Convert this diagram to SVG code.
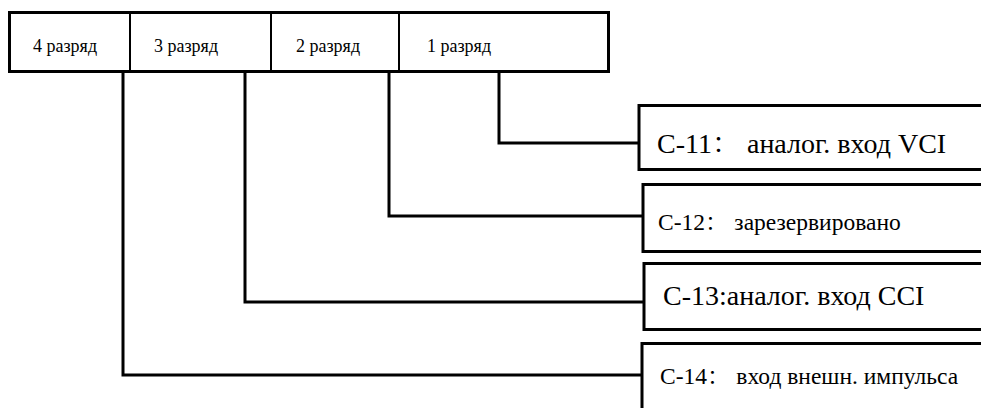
<svg xmlns="http://www.w3.org/2000/svg" width="981" height="408" viewBox="0 0 981 408">
<style>
.box{fill:#fff;stroke:#000;stroke-width:3}
.div{stroke:#000;stroke-width:2}
.con{fill:none;stroke:#000;stroke-width:3;stroke-linejoin:miter}
text{font-family:"Liberation Serif","Noto Serif CJK SC","Noto Sans CJK SC",serif;fill:#000}
.s{font-size:18px}
.l{font-size:28px}
.m{font-size:23.5px}
</style>
<rect width="981" height="408" fill="#fff"/>
<g id="header">
<rect class="box" x="9.5" y="12.5" width="599" height="59"/>
<line class="div" x1="130" y1="12" x2="130" y2="72"/>
<line class="div" x1="271" y1="12" x2="271" y2="72"/>
<line class="div" x1="399" y1="12" x2="399" y2="72"/>
<text class="s" x="33" y="52">4 разряд</text>
<text class="s" x="154" y="52">3 разряд</text>
<text class="s" x="296" y="52">2 разряд</text>
<text class="s" x="427" y="52">1 разряд</text>
</g>
<g id="connectors">
<polyline class="con" points="499,72 499,143 639,143"/>
<polyline class="con" points="389,72 389,216 643,216"/>
<polyline class="con" points="245,72 245,302 644,302"/>
<polyline class="con" points="123,72 123,375 642,375"/>
</g>
<g id="c11">
<rect class="box" x="639" y="105.5" width="350" height="64"/>
<text class="l" x="657" y="153">С-11： аналог. вход VCI</text>
</g>
<g id="c12">
<rect class="box" x="643" y="184.5" width="350" height="67"/>
<text class="m" x="658" y="230">С-12： зарезервировано</text>
</g>
<g id="c13">
<rect class="box" x="644" y="263.5" width="350" height="66"/>
<text class="l" x="663" y="305">С-13:аналог. вход CCI</text>
</g>
<g id="c14">
<rect class="box" x="642" y="343.5" width="350" height="80"/>
<text class="m" x="660" y="384">С-14： вход внешн. импульса</text>
</g>
</svg>
